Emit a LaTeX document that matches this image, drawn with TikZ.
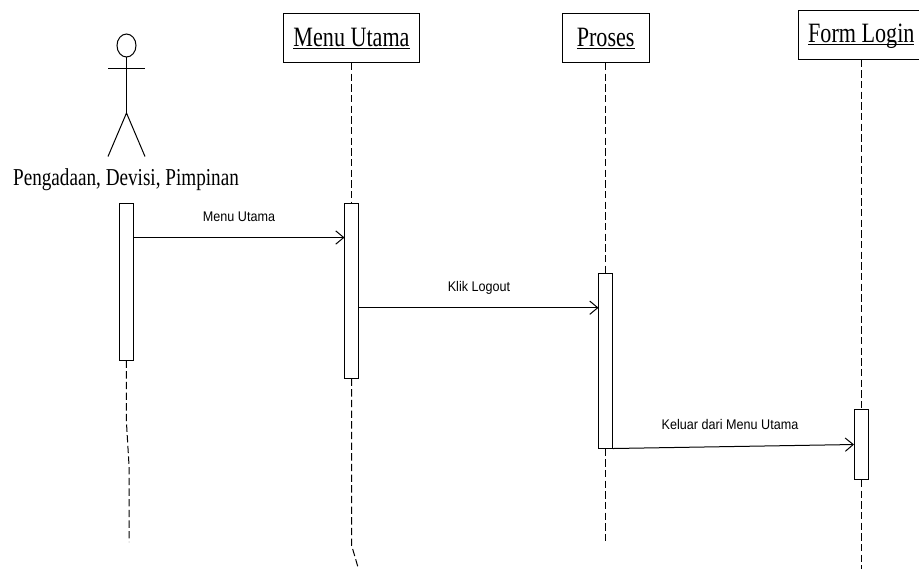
\documentclass[tikz,border=0pt]{standalone}
\usepackage{fontspec}
\usetikzlibrary{arrows.meta}
\newfontfamily\headfont[FakeStretch=0.79]{Liberation Serif}
\newfontfamily\msgfont[FakeStretch=0.9]{Liberation Sans}
\tikzset{>={Straight Barb[length=6pt,width=10pt]}}
\tikzset{
    objbox/.style={draw, fill=white, minimum width=102pt, minimum height=36.75pt, inner sep=0pt},
    objtxt/.style={inner sep=0pt, anchor=base, font=\headfont\fontsize{21}{24}\selectfont},
    actbar/.style={draw, fill=white, anchor=north, minimum width=10.5pt, inner sep=0pt},
    lifeline/.style={dash pattern=on 5.5pt off 2.5pt},
    msglabel/.style={inner sep=0pt, anchor=base, font=\msgfont\fontsize{10.5}{12}\selectfont}
}
\begin{document}
\begin{tikzpicture}[x=0.75pt, y=-0.75pt, line width=0.75pt]
    \useasboundingbox (0,0) rectangle (919,569);
    % objects
    \node[objbox] (menu) at (351.5,38) {};
    \node[objbox, minimum width=65pt] (proses) at (605.7,38) {};
    \node[objbox, minimum width=94.5pt] (form) at (861.3,34.5) {};
    \node[objtxt] (menutxt) at (351.5,46) {\underline{\smash{Menu Utama}}};
    \node[objtxt] (prosestxt) at (605.7,46) {\underline{\smash{Proses}}};
    \node[objtxt] (formtxt) at (861.3,42.7) {\underline{\smash{Form Login}}};
    % actor
    \coordinate (head) at (126.5,45.5);
    \coordinate (neck) at (126.5,57);
    \coordinate (hip) at (126.5,113);
    \coordinate (armL) at (108,68);
    \coordinate (armR) at (145,68);
    \coordinate (legL) at (108,156.5);
    \coordinate (legR) at (145,156.5);
    \draw (head) ellipse [x radius=9.5, y radius=11.5];
    \draw (neck) -- (hip);
    \draw (armL) -- (armR);
    \draw (legL) -- (hip) -- (legR);
    \node[objtxt, font=\headfont\fontsize{18.2}{21}\selectfont] (actor) at (126,185) {Pengadaan, Devisi, Pimpinan};
    % activation bars
    \node[actbar, minimum height=117.75pt] (actorbar) at (126.3,202.5) {};
    \node[actbar, minimum height=131.25pt] (menubar) at (351.5,202.5) {};
    \node[actbar, minimum height=131.25pt] (prosesbar) at (605.7,272.5) {};
    \node[actbar, minimum height=52.5pt] (formbar) at (861.3,409) {};
    % life lines
    \coordinate (actorA) at (126.3,420);
    \coordinate (actorB) at (129,465);
    \coordinate (actorEnd) at (129,542);
    \coordinate (menuA) at (351.5,545);
    \coordinate (menuEnd) at (358.5,569);
    \coordinate (prosesEnd) at (605.7,542);
    \coordinate (formEnd) at (861.3,569);
    \draw[lifeline] (actorbar.south) -- (actorA) -- (actorB) -- (actorEnd);
    \draw[lifeline] (menu.south) -- (menubar.north);
    \draw[lifeline] (menubar.south) -- (menuA) -- (menuEnd);
    \draw[lifeline] (proses.south) -- (prosesbar.north);
    \draw[lifeline] (prosesbar.south) -- (prosesEnd);
    \draw[lifeline] (form.south) -- (formbar.north);
    \draw[lifeline] (formbar.south) -- (formEnd);
    % messages
    \coordinate (m1a) at (133.6,237.5);
    \coordinate (m1b) at (344.5,237.5);
    \coordinate (m2a) at (358.5,307.7);
    \coordinate (m2b) at (598.5,307.7);
    \coordinate (m3b) at (854,444.5);
    \draw[->] (m1a) -- (m1b);
    \draw[->] (m2a) -- (m2b);
    \draw[->] (prosesbar.south east) -- (m3b);
    \node[msglabel] (lab1) at (239,221) {Menu Utama};
    \node[msglabel] (lab2) at (479,291.5) {Klik Logout};
    \node[msglabel] (lab3) at (730,429.5) {Keluar dari Menu Utama};
\end{tikzpicture}
\end{document}
